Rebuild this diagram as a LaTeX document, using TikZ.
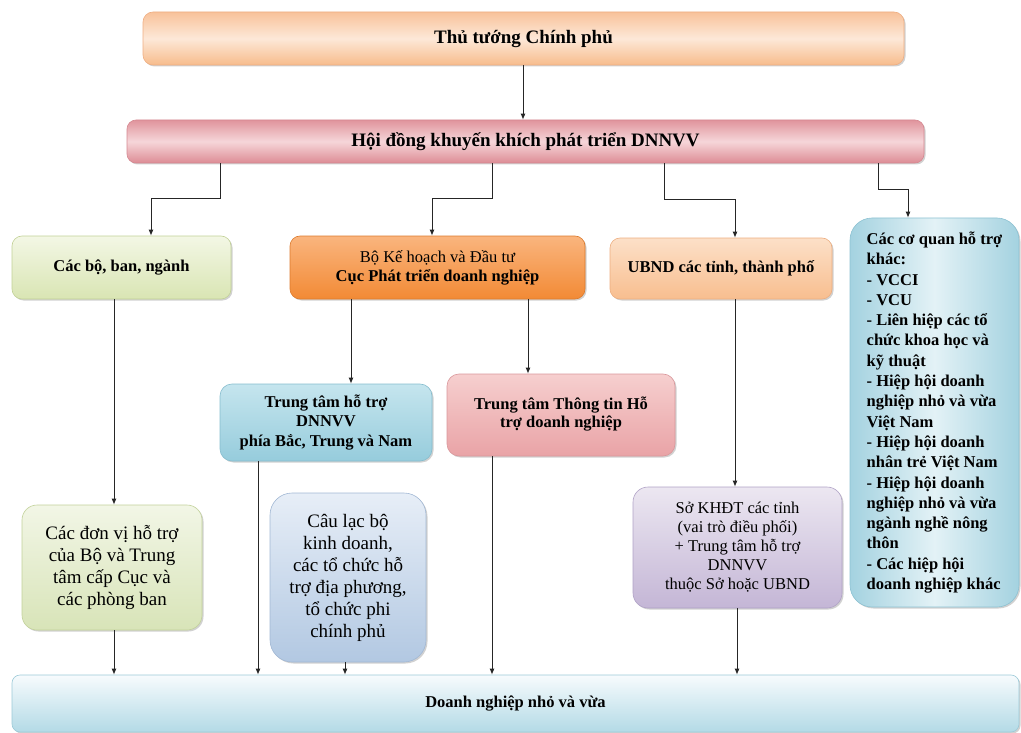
\documentclass[tikz,border=0pt]{standalone}
\usepackage{fontspec}
\setmainfont{Liberation Serif}
\usetikzlibrary{arrows.meta,shadows}
\definecolor{ttT}{HTML}{F8C29A}\definecolor{ttM}{HTML}{FDE8D8}\definecolor{ttB}{HTML}{F7BC8C}\definecolor{ttD}{HTML}{EFAE82}
\definecolor{hdT}{HTML}{E0949C}\definecolor{hdM}{HTML}{F6D6D9}\definecolor{hdB}{HTML}{DD8C95}\definecolor{hdD}{HTML}{D58891}
\definecolor{cbT}{HTML}{F3F7E5}\definecolor{cbB}{HTML}{D9E5B3}\definecolor{cbD}{HTML}{C2D197}
\definecolor{khT}{HTML}{FAB57E}\definecolor{khB}{HTML}{F28A35}\definecolor{khD}{HTML}{DC7A2C}
\definecolor{ubT}{HTML}{FCE0C8}\definecolor{ubB}{HTML}{F8BE8F}\definecolor{ubD}{HTML}{EDAE80}
\definecolor{cqS}{HTML}{A4D2E0}\definecolor{cqM}{HTML}{E3F2F6}\definecolor{cqD}{HTML}{8DC2D2}
\definecolor{tcT}{HTML}{C5E5EE}\definecolor{tcB}{HTML}{96CCDC}\definecolor{tcD}{HTML}{86BDCE}
\definecolor{tiT}{HTML}{F6CFCF}\definecolor{tiB}{HTML}{E9A3A6}\definecolor{tiD}{HTML}{D9979B}
\definecolor{dvT}{HTML}{F2F6E6}\definecolor{dvB}{HTML}{D8E4B8}\definecolor{dvD}{HTML}{C2D19A}
\definecolor{clT}{HTML}{E7EEF7}\definecolor{clB}{HTML}{B2C8E2}\definecolor{clD}{HTML}{A2B8D4}
\definecolor{soT}{HTML}{ECE7F1}\definecolor{soB}{HTML}{C4B6D6}\definecolor{soD}{HTML}{B0A2C6}
\definecolor{dnT}{HTML}{F7FBFD}\definecolor{dnB}{HTML}{B3DAE6}\definecolor{dnD}{HTML}{9CCAD8}
\begin{document}
\begin{tikzpicture}[x=1pt,y=-1pt,
  base/.style={line width=0.6pt, align=center, inner sep=0pt,
    drop shadow={shadow xshift=1.5pt,shadow yshift=-1.5pt,opacity=0.3,fill=black!60}},
  arr/.style={-{Latex[length=6pt,width=5pt]}, line width=1pt, black!85},
  bigb/.style={font=\fontsize{19}{22}\selectfont\bfseries},
  midb/.style={font=\fontsize{16.5}{19.5}\selectfont\bfseries},
  midr/.style={font=\fontsize{16.5}{19}\selectfont},
  larger/.style={font=\fontsize{19}{22}\selectfont},
]
\useasboundingbox (0,0) rectangle (1021,733);

\node[base, bigb, rounded corners=10pt, draw=ttD, top color=ttT, bottom color=ttB, middle color=ttM,
  minimum width=761pt, minimum height=53pt] (tt) at (523.5,38.5) {Thủ tướng Chính phủ};
\node[base, bigb, rounded corners=9pt, draw=hdD, top color=hdT, bottom color=hdB, middle color=hdM,
  minimum width=797pt, minimum height=43pt] (hd) at (525.5,141.5) {Hội đồng khuyến khích phát triển DNNVV};

\node[base, midb, rounded corners=10pt, draw=cbD, top color=cbT, bottom color=cbB,
  minimum width=219pt, minimum height=63pt] (cb) at (121.5,267.5) {Các bộ, ban, ngành};
\node[base, midr, rounded corners=10pt, draw=khD, top color=khT, bottom color=khB,
  minimum width=295pt, minimum height=63pt] (kh) at (437.5,267.5) {Bộ Kế hoạch và Đầu tư\\\textbf{Cục Phát triển doanh nghiệp}};
\node[base, midb, rounded corners=10pt, draw=ubD, top color=ubT, bottom color=ubB,
  minimum width=222pt, minimum height=61pt] (ub) at (721,268.5) {UBND các tỉnh, thành phố};
\node[base, font=\fontsize{16.5}{20.3}\selectfont\bfseries, align=left, rounded corners=22pt, draw=cqD,
  left color=cqS, right color=cqS, middle color=cqM,
  minimum width=169pt, minimum height=389pt] (cq) at (934.5,412.5)
  {Các cơ quan hỗ trợ\\khác:\\- VCCI\\- VCU\\- Liên hiệp các tổ\\chức khoa học và\\kỹ thuật\\- Hiệp hội doanh\\nghiệp nhỏ và vừa\\Việt Nam\\- Hiệp hội doanh\\nhân trẻ Việt Nam\\- Hiệp hội doanh\\nghiệp nhỏ và vừa\\ngành nghề nông\\thôn\\- Các hiệp hội\\doanh nghiệp khác};

\node[base, midb, rounded corners=12pt, draw=tcD, top color=tcT, bottom color=tcB,
  minimum width=212pt, minimum height=77pt] (tc) at (326,422.5) {Trung tâm hỗ trợ\\DNNVV\\phía Bắc, Trung và Nam};
\node[base, midb, rounded corners=12pt, draw=tiD, top color=tiT, bottom color=tiB,
  minimum width=228pt, minimum height=82pt] (ti) at (561,415) {\raisebox{6pt}{\shortstack{Trung tâm Thông tin Hỗ\\trợ doanh nghiệp}}};

\node[base, larger, rounded corners=15pt, draw=dvD, top color=dvT, bottom color=dvB,
  minimum width=180pt, minimum height=125pt] (dv) at (112,567.5) {Các đơn vị hỗ trợ\\của Bộ và Trung\\tâm cấp Cục và\\các phòng ban};
\node[base, larger, rounded corners=22pt, draw=clD, top color=clT, bottom color=clB,
  minimum width=156pt, minimum height=169pt] (cl) at (348,577.5) {Câu lạc bộ\\kinh doanh,\\các tổ chức hỗ\\trợ địa phương,\\tổ chức phi\\chính phủ};
\node[base, midr, rounded corners=15pt, draw=soD, top color=soT, bottom color=soB,
  minimum width=209pt, minimum height=121pt] (so) at (737.5,547.5) {Sở KHĐT các tỉnh\\(vai trò điều phối)\\+ Trung tâm hỗ trợ\\DNNVV\\thuộc Sở hoặc UBND};

\node[base, midb, rounded corners=8pt, draw=dnD, top color=dnT, bottom color=dnB,
  minimum width=1007pt, minimum height=57pt] (dn) at (515.5,703.5) {Doanh nghiệp nhỏ và vừa};

\foreach \v in {114,151,220,258,345,351,432,492,523,528,664,735,737,878,908}
  \coordinate (x\v) at (\v,0);

\draw[arr] (tt.south -| x523) -- (hd.north -| x523);
\draw[arr] (hd.south -| x220) -- ++(0,35) -| (cb.north -| x151);
\draw[arr] (hd.south -| x492) -- ++(0,35) -| (kh.north -| x432);
\draw[arr] (hd.south -| x664) -- ++(0,36) -| (ub.north -| x735);
\draw[arr] (hd.south -| x878) -- ++(0,26) -| (cq.north -| x908);
\draw[arr] (cb.south -| x114) -- (dv.north -| x114);
\draw[arr] (kh.south -| x351) -- (tc.north -| x351);
\draw[arr] (kh.south -| x528) -- (ti.north -| x528);
\draw[arr] (ub.south -| x735) -- (so.north -| x735);
\draw[arr] (dv.south -| x114) -- (dn.north -| x114);
\draw[arr] (tc.south -| x258) -- (dn.north -| x258);
\draw[arr] (cl.south -| x345) -- (dn.north -| x345);
\draw[arr] (ti.south -| x492) -- (dn.north -| x492);
\draw[arr] (so.south -| x737) -- (dn.north -| x737);
\end{tikzpicture}
\end{document}
